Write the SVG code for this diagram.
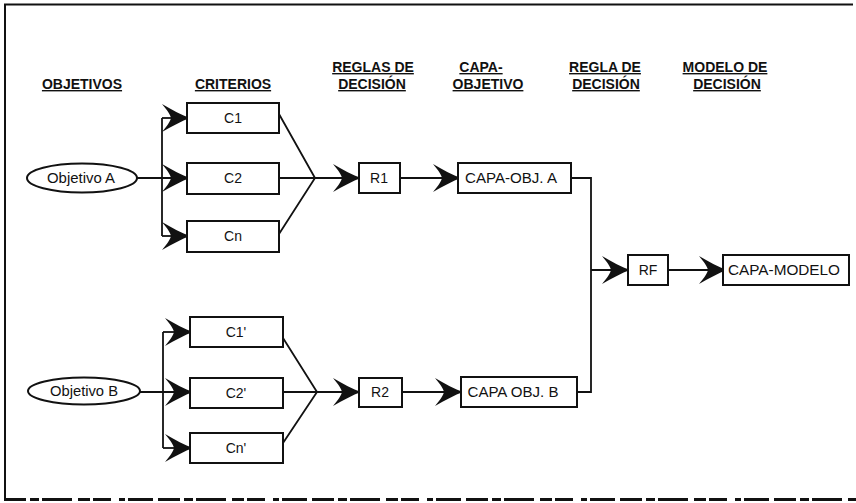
<svg xmlns="http://www.w3.org/2000/svg" width="856" height="503" viewBox="0 0 856 503">
<style>
.hdr{font-family:"Liberation Sans",Arial,sans-serif;font-size:14px;font-weight:bold;text-anchor:middle;text-decoration:underline;fill:#111}
.lbl{font-family:"Liberation Sans",Arial,sans-serif;font-size:14px;text-anchor:middle;fill:#111}
.box{fill:#fff;stroke:#111;stroke-width:2}
.con{fill:none;stroke:#111;stroke-width:1.8}
.arr{marker-end:url(#ah)}
</style>
<defs>
<marker id="ah" markerUnits="userSpaceOnUse" viewBox="0 0 28 28" markerWidth="28" markerHeight="28" refX="27" refY="14" orient="auto">
<path d="M28,14 C20,11 10,6 0,0 C5,6 8,10 9,14 C8,18 5,22 0,28 C10,22 20,17 28,14 Z" fill="#111"/>
</marker>
</defs>
<rect width="856" height="503" fill="#fff"/>
<g id="frame" fill="none" stroke="#111" stroke-width="2">
<path d="M5,498 V4.5 H853"/>
<path d="M4,499.5 H856" stroke-width="3" stroke-dasharray="22 4 9 3 30 6 12 3 18 8 6 3 25 5"/>
</g>
<g id="headers">
<text class="hdr" x="82" y="89">OBJETIVOS</text>
<text class="hdr" x="233" y="89">CRITERIOS</text>
<text class="hdr" x="373" y="72">REGLAS DE</text>
<text class="hdr" x="372" y="89">DECISIÓN</text>
<text class="hdr" x="481" y="72">CAPA-</text>
<text class="hdr" x="488" y="89">OBJETIVO</text>
<text class="hdr" x="605" y="72">REGLA DE</text>
<text class="hdr" x="606" y="89">DECISIÓN</text>
<text class="hdr" x="725" y="72">MODELO DE</text>
<text class="hdr" x="727" y="89">DECISIÓN</text>
</g>
<g id="connectors">
<path class="con arr" d="M137,178 H189"/>
<path class="con" d="M162,118 V236"/>
<path class="con arr" d="M162,118 H189"/>
<path class="con arr" d="M162,236 H189"/>
<path class="con" d="M279,114 L315,178 L279,234"/>
<path class="con arr" d="M279,178 H360"/>
<path class="con arr" d="M400,178 H460"/>
<path class="con" d="M571,178 H591 V392 H577"/>
<path class="con arr" d="M591,270 H629"/>
<path class="con arr" d="M668,270 H726"/>
<path class="con arr" d="M140,392 H192"/>
<path class="con" d="M163,332 V448"/>
<path class="con arr" d="M163,332 H192"/>
<path class="con arr" d="M163,448 H192"/>
<path class="con" d="M283,338 L317,392 L283,443"/>
<path class="con arr" d="M283,392 H360"/>
<path class="con arr" d="M402,392 H462"/>
</g>
<g id="objA"><ellipse cx="82" cy="178" rx="55" ry="14.5" fill="#fff" stroke="#111" stroke-width="2"/><text class="lbl" x="81" y="183" textLength="68" lengthAdjust="spacingAndGlyphs">Objetivo A</text></g>
<g id="C1"><rect class="box" x="187" y="103" width="92" height="30"/><text class="lbl" x="233" y="123">C1</text></g>
<g id="C2"><rect class="box" x="187" y="163" width="92" height="31"/><text class="lbl" x="233" y="183">C2</text></g>
<g id="Cn"><rect class="box" x="187" y="221" width="92" height="31"/><text class="lbl" x="233" y="241">Cn</text></g>
<g id="R1"><rect class="box" x="359" y="163" width="41" height="30"/><text class="lbl" x="379" y="183">R1</text></g>
<g id="capaA"><rect class="box" x="458" y="163" width="113" height="30"/><text class="lbl" x="511" y="183" textLength="92" lengthAdjust="spacingAndGlyphs">CAPA-OBJ. A</text></g>
<g id="RF"><rect class="box" x="628" y="255" width="40" height="30"/><text class="lbl" x="648" y="275">RF</text></g>
<g id="modelo"><rect class="box" x="723" y="255" width="126" height="30"/><text class="lbl" x="784" y="275" textLength="112" lengthAdjust="spacingAndGlyphs">CAPA-MODELO</text></g>
<g id="objB"><ellipse cx="84" cy="391" rx="56" ry="13.5" fill="#fff" stroke="#111" stroke-width="2"/><text class="lbl" x="84" y="396" textLength="68" lengthAdjust="spacingAndGlyphs">Objetivo B</text></g>
<g id="C1p"><rect class="box" x="190" y="317" width="93" height="30"/><text class="lbl" x="236" y="337">C1'</text></g>
<g id="C2p"><rect class="box" x="190" y="378" width="93" height="30"/><text class="lbl" x="236" y="398">C2'</text></g>
<g id="Cnp"><rect class="box" x="190" y="433" width="93" height="30"/><text class="lbl" x="236" y="453">Cn'</text></g>
<g id="R2"><rect class="box" x="359" y="378" width="43" height="29"/><text class="lbl" x="380" y="397">R2</text></g>
<g id="capaB"><rect class="box" x="461" y="377" width="116" height="30"/><text class="lbl" x="513" y="397" textLength="91" lengthAdjust="spacingAndGlyphs">CAPA OBJ. B</text></g>
</svg>
